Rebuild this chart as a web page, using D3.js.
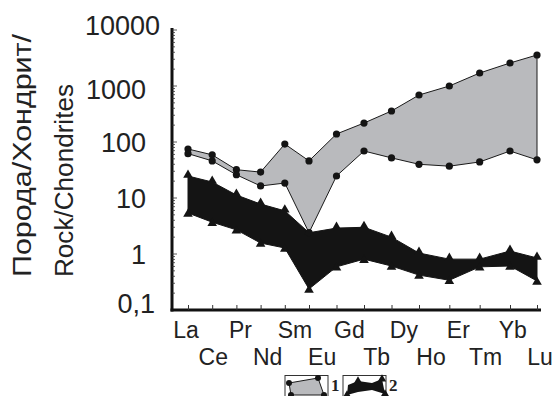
<!DOCTYPE html>
<html>
<head>
<meta charset="utf-8">
<script src="https://cdn.jsdelivr.net/npm/d3@7"></script>
<style>
  body { margin: 0; background: #fff; }
  text { font-family: "Liberation Sans", Arial, sans-serif; fill: #222; }
</style>
</head>
<body>
<div id="chart"></div>
<script>
// REE elements (chondrite-normalised)
const elements = ['La', 'Ce', 'Pr', 'Nd', 'Sm', 'Eu', 'Gd', 'Tb', 'Dy', 'Ho', 'Er', 'Tm', 'Yb', 'Lu'];

// field 1 (grey, circles)
const field1Upper = [75, 59, 32, 29, 92, 46, 139, 218, 358, 690, 1000, 1706, 2575, 3580];
const field1Lower = [62, 46, 26, 16.4, 18.5, 2.4, 24.7, 69, 52, 40, 37, 44, 69, 48];

// field 2 (black, triangles)
const field2Upper = [24.7, 19.3, 11.3, 7.8, 5.9, 2.4, 2.9, 3.0, 2.0, 1.04, 0.81, 0.81, 1.13, 0.85];
const field2Lower = [5.4, 3.7, 2.7, 1.57, 1.28, 0.237, 0.59, 0.81, 0.61, 0.42, 0.34, 0.59, 0.61, 0.33];

const yTicks = [0.1, 1, 10, 100, 1000, 10000];
const legendLabels = ['1', '2'];

const width = 558, height = 396;
const margins = {top: 30, right: 20, bottom: 86, left: 172};

const svg = d3.select('#chart').append('svg')
  .attr('width', width)
  .attr('height', height);

// the original spacing of the element ticks is not even
const xi = d3.scaleLinear()
  .domain([0, 5, 9, 12, 13])
  .range([188, 309, 419, 510, 537]);
const x = el => xi(elements.indexOf(el));

// labels sit on an even grid
const xLab = d3.scalePoint()
  .domain(elements)
  .range([186, 540]);

const y = d3.scaleLog()
  .domain([0.1, 10000])
  .range([height - margins.bottom, margins.top]);

const rows = elements.map((e, i) => ({
  el: e,
  u1: field1Upper[i], l1: field1Lower[i],
  u2: field2Upper[i], l2: field2Lower[i]
}));

// black field
svg.append('path')
  .datum(rows)
  .attr('fill', '#141414')
  .attr('stroke', '#141414')
  .attr('stroke-width', 1)
  .attr('d', d3.area().x(d => x(d.el)).y0(d => y(d.l2)).y1(d => y(d.u2)));

const tri = d3.symbol(d3.symbolTriangle, 40);
['u2', 'l2'].forEach(k => {
  svg.selectAll('.tri-' + k)
    .data(rows)
    .enter()
    .append('path')
    .attr('transform', d => `translate(${x(d.el)},${y(d[k]) + (k === 'u2' ? -1 : 1)})`)
    .attr('d', tri)
    .attr('fill', '#141414');
});

// grey field
svg.append('path')
  .datum(rows)
  .attr('fill', '#b9babd')
  .attr('stroke', '#1a1a1a')
  .attr('stroke-width', 1)
  .attr('d', d3.area().x(d => x(d.el)).y0(d => y(d.l1)).y1(d => y(d.u1)));

['u1', 'l1'].forEach(k => {
  svg.selectAll('.dot-' + k)
    .data(rows)
    .enter()
    .append('circle')
    .attr('cx', d => x(d.el))
    .attr('cy', d => y(d[k]))
    .attr('r', 3.6)
    .attr('fill', '#141414');
});

// Y axis
const yAxis = svg.append('g')
  .attr('transform', `translate(${margins.left},0)`)
  .call(d3.axisLeft(y)
    .tickValues(yTicks)
    .tickFormat(d => d < 1 ? '0,1' : d3.format('d')(d))
    .tickSizeInner(0)
    .tickSizeOuter(0)
    .tickPadding(26));
yAxis.select('.domain')
  .attr('stroke', '#111')
  .attr('stroke-width', 3)
  .attr('d', `M0,${margins.top - 2}V${height - margins.bottom + 1.5}`);
yAxis.selectAll('text')
  .style('font-size', '27px')
  .attr('fill', '#222')
  .attr('dy', d => d === 10000 ? '0.17em' : d === 0.1 ? '0.08em' : d === 1000 ? '0.48em' : '0.36em')
  .attr('dx', d => d === 10000 ? '14' : d === 0.1 ? '9' : 0);

// minor log ticks (inside)
const minor = [];
for (let p = -1; p < 4; p++) {
  for (let m = 1; m < 10; m++) minor.push(m * Math.pow(10, p));
}
minor.push(10000);
svg.append('g')
  .selectAll('line')
  .data(minor)
  .enter()
  .append('line')
  .attr('x1', margins.left)
  .attr('x2', d => margins.left + (Math.abs(Math.log10(d) % 1) < 1e-9 ? 5 : 3))
  .attr('y1', d => y(d))
  .attr('y2', d => y(d))
  .attr('stroke', '#333')
  .attr('stroke-width', 0.8);

// X axis
const xAxis = svg.append('g')
  .attr('transform', `translate(0,${height - margins.bottom})`)
  .call(d3.axisBottom(xi)
    .tickValues(d3.range(elements.length))
    .tickFormat('')
    .tickSizeInner(-5)
    .tickSizeOuter(0));
xAxis.select('.domain')
  .attr('stroke', '#111')
  .attr('stroke-width', 3)
  .attr('d', `M${margins.left - 1.5},0H541`);
xAxis.selectAll('.tick line')
  .attr('stroke', '#333')
  .attr('stroke-width', 1);

svg.append('g')
  .selectAll('text')
  .data(elements)
  .enter()
  .append('text')
  .attr('x', d => xLab(d))
  .attr('y', (d, i) => height - margins.bottom + (i % 2 === 0 ? 28 : 55))
  .attr('text-anchor', 'middle')
  .style('font-size', '23px')
  .text(d => d);

// Y title
const yTitle = svg.append('text')
  .attr('transform', 'translate(0,277) rotate(-90)')
  .style('font-size', '26px')
  .attr('text-anchor', 'start');
yTitle.append('tspan').attr('x', 0).attr('y', 31)
  .attr('textLength', 243).attr('lengthAdjust', 'spacingAndGlyphs')
  .text('Порода/Хондрит/');
yTitle.append('tspan').attr('x', 0).attr('y', 73)
  .attr('textLength', 193).attr('lengthAdjust', 'spacingAndGlyphs')
  .text('Rock/Chondrites');

// Legend
const legend = svg.append('g');
const lx = [285, 343];
legend.selectAll('rect')
  .data(legendLabels)
  .enter()
  .append('rect')
  .attr('x', (d, i) => lx[i])
  .attr('y', 375.5)
  .attr('width', 43)
  .attr('height', 22)
  .attr('fill', 'none')
  .attr('stroke', '#333')
  .attr('stroke-width', 1);
legend.selectAll('.lab')
  .data(legendLabels)
  .enter()
  .append('text')
  .attr('x', (d, i) => lx[i] + 46)
  .attr('y', 391)
  .style('font-family', '"Liberation Serif", "DejaVu Serif", serif')
  .style('font-weight', 'bold')
  .style('font-size', '17px')
  .text(d => d);

// legend 1 glyph
const g1 = [[289, 383], [318, 378], [324, 395], [291, 395]];
legend.append('polygon')
  .attr('points', g1.map(p => p.join(',')).join(' '))
  .attr('fill', '#b9babd')
  .attr('stroke', '#1a1a1a');
legend.selectAll('.g1dot')
  .data(g1)
  .enter()
  .append('circle')
  .attr('cx', d => d[0])
  .attr('cy', d => d[1])
  .attr('r', 3)
  .attr('fill', '#141414');

// legend 2 glyph
const g2 = [[348, 385], [358, 381], [372, 383], [382, 379], [385, 394], [372, 390], [358, 392], [347, 395]];
legend.append('polygon')
  .attr('points', g2.map(p => p.join(',')).join(' '))
  .attr('fill', '#141414');
legend.selectAll('.g2tri')
  .data([g2[1], g2[3], g2[4], g2[7]])
  .enter()
  .append('path')
  .attr('transform', d => `translate(${d[0]},${d[1]})`)
  .attr('d', d3.symbol(d3.symbolTriangle, 30))
  .attr('fill', '#141414');
</script>
</body>
</html>
